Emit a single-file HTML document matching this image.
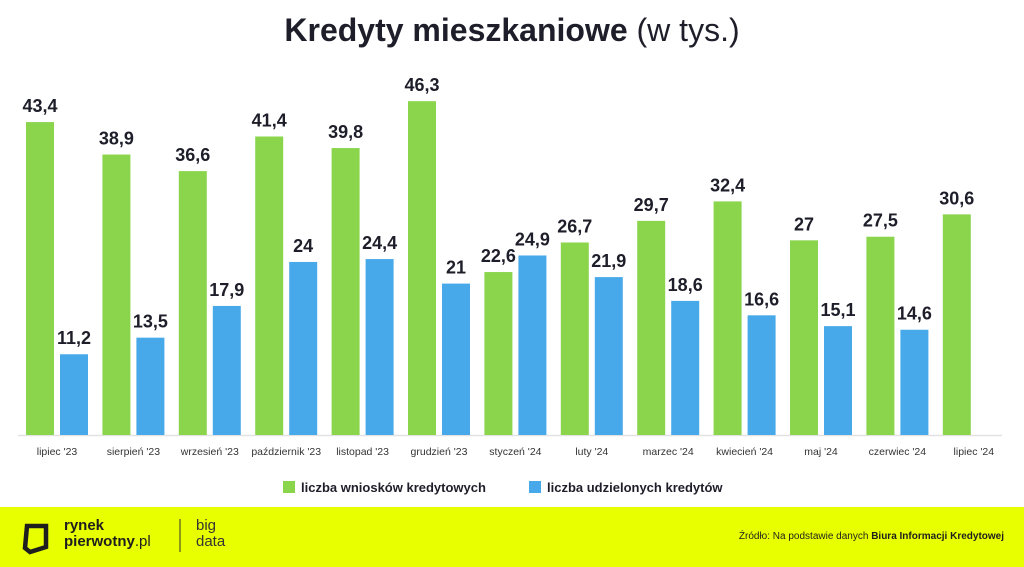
<!DOCTYPE html>
<html><head><meta charset="utf-8"><style>
body{margin:0;width:1024px;height:567px;background:#fff;position:relative;overflow:hidden;font-family:"Liberation Sans",sans-serif}
.t{position:absolute;left:0;width:1024px;top:12px;text-align:center;font-size:32px;font-weight:bold;color:#1e1e2a}
.t span{font-weight:normal}
.footer{position:absolute;left:0;top:507px;width:1024px;height:60px;background:#e8ff00}
</style></head><body>
<div class="t">Kredyty mieszkaniowe <span>(w tys.)</span></div>
<svg width="1024" height="567" style="position:absolute;left:0;top:0" font-family="Liberation Sans, sans-serif">
<line x1="18" y1="435.5" x2="1002" y2="435.5" stroke="#e2e2e2" stroke-width="1.5"/>
<g id="bars"></g>
<g font-size="13" fill="#1e1e2a">
<rect x="283" y="481" width="12" height="12" fill="#8ad54c"/><text x="301" y="492" font-weight="bold" font-size="13">liczba wniosków kredytowych</text>
<rect x="529" y="481" width="12" height="12" fill="#48a9ea"/><text x="547" y="492" font-weight="bold" font-size="13">liczba udzielonych kredytów</text>
</g>
</svg>
<div class="footer">
<svg width="1024" height="60" style="position:absolute;left:0;top:0" font-family="Liberation Sans, sans-serif">
<path d="M27 19 L46 19 L46 40 L30 45 L25 41 Z" fill="none" stroke="#1e1e1e" stroke-width="4.5"/>
<text x="64" y="23" font-size="15" font-weight="bold" fill="#1e1e1e">rynek</text>
<text x="64" y="39" font-size="15" font-weight="bold" fill="#1e1e1e">pierwotny<tspan font-weight="normal">.pl</tspan></text>
<line x1="180" y1="12" x2="180" y2="45" stroke="#333" stroke-width="1"/>
<text x="196" y="23" font-size="15" fill="#333">big</text>
<text x="196" y="39" font-size="15" fill="#333">data</text>
<text x="1004" y="32" font-size="10" fill="#1e1e1e" text-anchor="end">Źródło: Na podstawie danych <tspan font-weight="bold">Biura Informacji Kredytowej</tspan></text>
</svg>
</div>
<script>
var g=[43.4,38.9,36.6,41.4,39.8,46.3,22.6,26.7,29.7,32.4,27,27.5,30.6];
var b=[11.2,13.5,17.9,24,24.4,21,24.9,21.9,18.6,16.6,15.1,14.6,null];
var m=["lipiec '23","sierpień '23","wrzesień '23","październik '23","listopad '23","grudzień '23","styczeń '24","luty '24","marzec '24","kwiecień '24","maj '24","czerwiec '24","lipiec '24"];
var s="",k=7.21,B=435;
function lab(v){return String(v).replace('.',',');}
for(var i=0;i<13;i++){
 var x=26+76.4*i;
 var h=g[i]*k;
 s+='<rect x="'+x+'" y="'+(B-h)+'" width="28" height="'+h+'" fill="#8ad54c"/>';
 s+='<text x="'+(x+14)+'" y="'+(B-h-10)+'" text-anchor="middle" font-size="18" font-weight="bold" fill="#1e1e2a">'+lab(g[i])+'</text>';
 if(b[i]!=null){var h2=b[i]*k;
 s+='<rect x="'+(x+34)+'" y="'+(B-h2)+'" width="28" height="'+h2+'" fill="#48a9ea"/>';
 s+='<text x="'+(x+48)+'" y="'+(B-h2-10)+'" text-anchor="middle" font-size="18" font-weight="bold" fill="#1e1e2a">'+lab(b[i])+'</text>';}
 s+='<text x="'+(x+31)+'" y="455" text-anchor="middle" font-size="10.5" fill="#333">'+m[i]+'</text>';
}
document.getElementById('bars').innerHTML=s;
</script>
</body></html>
